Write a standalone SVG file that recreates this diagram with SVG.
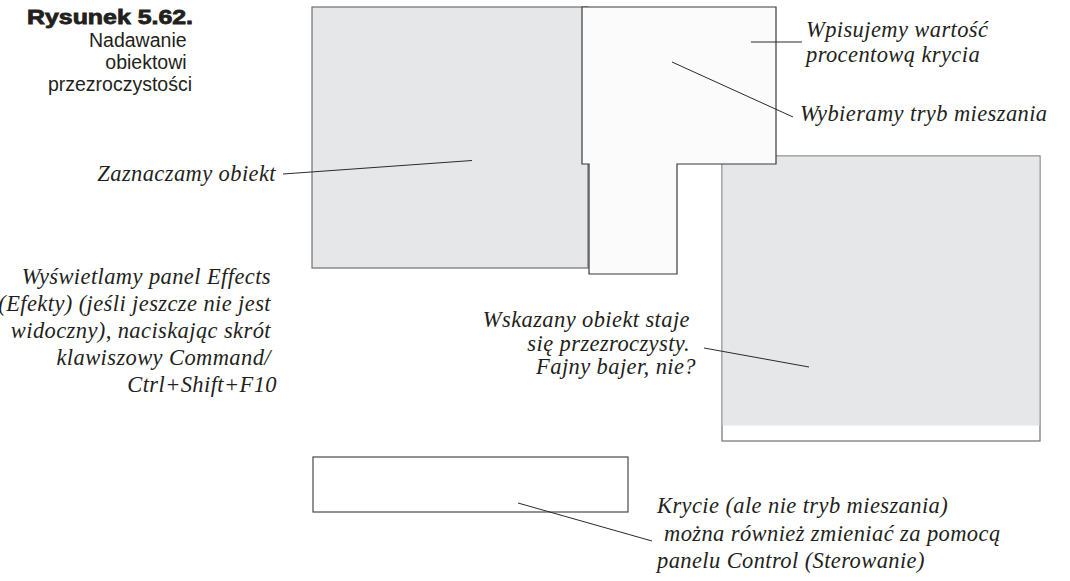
<svg xmlns="http://www.w3.org/2000/svg" width="1070" height="581" viewBox="0 0 1070 581">
  <style>
    .caption { font-family: "Liberation Serif", "Times New Roman", serif; font-style: italic; font-size: 22.5px; fill: #231f20; letter-spacing: 0.4px; }
    .title { font-family: "Liberation Sans", Arial, sans-serif; font-weight: bold; font-size: 20px; fill: #231f20; stroke: #231f20; stroke-width: 0.8; }
    .subtitle { font-family: "Liberation Sans", Arial, sans-serif; font-size: 19.5px; fill: #231f20; }
    .panel-gray { fill: #e6e7e8; stroke: #707172; stroke-width: 1.2; }
    .panel-white { fill: #fbfbfb; stroke: #3a3a3a; stroke-width: 1.2; }
    .leader { stroke: #2a2a2a; stroke-width: 1; fill: none; }
  </style>

  <rect width="1070" height="581" fill="#ffffff"/>

  <!-- figure caption -->
  <g id="figure-title">
    <text class="title" x="193" y="24" text-anchor="end" textLength="166" lengthAdjust="spacingAndGlyphs">Rysunek 5.62.</text>
    <text class="subtitle" text-anchor="end">
      <tspan x="192" y="46.5">Nadawanie</tspan>
      <tspan x="192" y="68.5">obiektowi</tspan>
      <tspan x="192" y="90.5">przezroczystości</tspan>
    </text>
  </g>

  <!-- selected object (left gray area) -->
  <g id="object-left">
    <rect class="panel-gray" x="312" y="7" width="276" height="261"/>
  </g>

  <!-- transparent object (right gray area with white strip at the bottom) -->
  <g id="object-right">
    <rect x="722" y="156" width="318" height="285" fill="#ffffff" stroke="#707172" stroke-width="1.2"/>
    <rect x="722.6" y="156.6" width="316.8" height="269" fill="#e6e7e8"/>
  </g>

  <!-- Effects panel -->
  <g id="effects-panel">
    <polygon class="panel-white" points="582,7 776,7 776,164 677,164 677,274 589,274 589,164 582,164"/>
  </g>

  <!-- Control panel strip -->
  <g id="control-panel">
    <rect x="313" y="457" width="315" height="55" fill="#ffffff" stroke="#4a4a4a" stroke-width="1.2"/>
  </g>

  <!-- leader lines -->
  <g id="connectors">
    <line class="leader" x1="283" y1="174" x2="472" y2="160.5"/>
    <line class="leader" x1="751" y1="42" x2="802" y2="42"/>
    <line class="leader" x1="672" y1="62" x2="793" y2="117"/>
    <line class="leader" x1="704" y1="348" x2="809" y2="367"/>
    <line class="leader" x1="518" y1="503" x2="652" y2="541"/>
  </g>

  <!-- callout labels -->
  <g id="label-select">
    <text class="caption" x="276" y="181" text-anchor="end">Zaznaczamy obiekt</text>
  </g>
  <g id="label-opacity">
    <text class="caption">
      <tspan x="806" y="37">Wpisujemy wartość</tspan>
      <tspan x="806" y="62">procentową krycia</tspan>
    </text>
  </g>
  <g id="label-blend">
    <text class="caption" x="800" y="121">Wybieramy tryb mieszania</text>
  </g>
  <g id="label-effects">
    <text class="caption" text-anchor="end">
      <tspan x="277" y="284">Wyświetlamy panel Effects</tspan>
      <tspan x="277" y="311">(Efekty) (jeśli jeszcze nie jest</tspan>
      <tspan x="277" y="338">widoczny), naciskając skrót</tspan>
      <tspan x="277" y="365">klawiszowy Command/</tspan>
      <tspan x="277" y="392">Ctrl+Shift+F10</tspan>
    </text>
  </g>
  <g id="label-result">
    <text class="caption" text-anchor="end">
      <tspan x="696" y="327">Wskazany obiekt staje</tspan>
      <tspan x="696" y="351">się przezroczysty.</tspan>
      <tspan x="696" y="374">Fajny bajer, nie?</tspan>
    </text>
  </g>
  <g id="label-control">
    <text class="caption">
      <tspan x="657" y="513">Krycie (ale nie tryb mieszania)</tspan>
      <tspan x="664" y="541">można również zmieniać za pomocą</tspan>
      <tspan x="657" y="568">panelu Control (Sterowanie)</tspan>
    </text>
  </g>
</svg>
